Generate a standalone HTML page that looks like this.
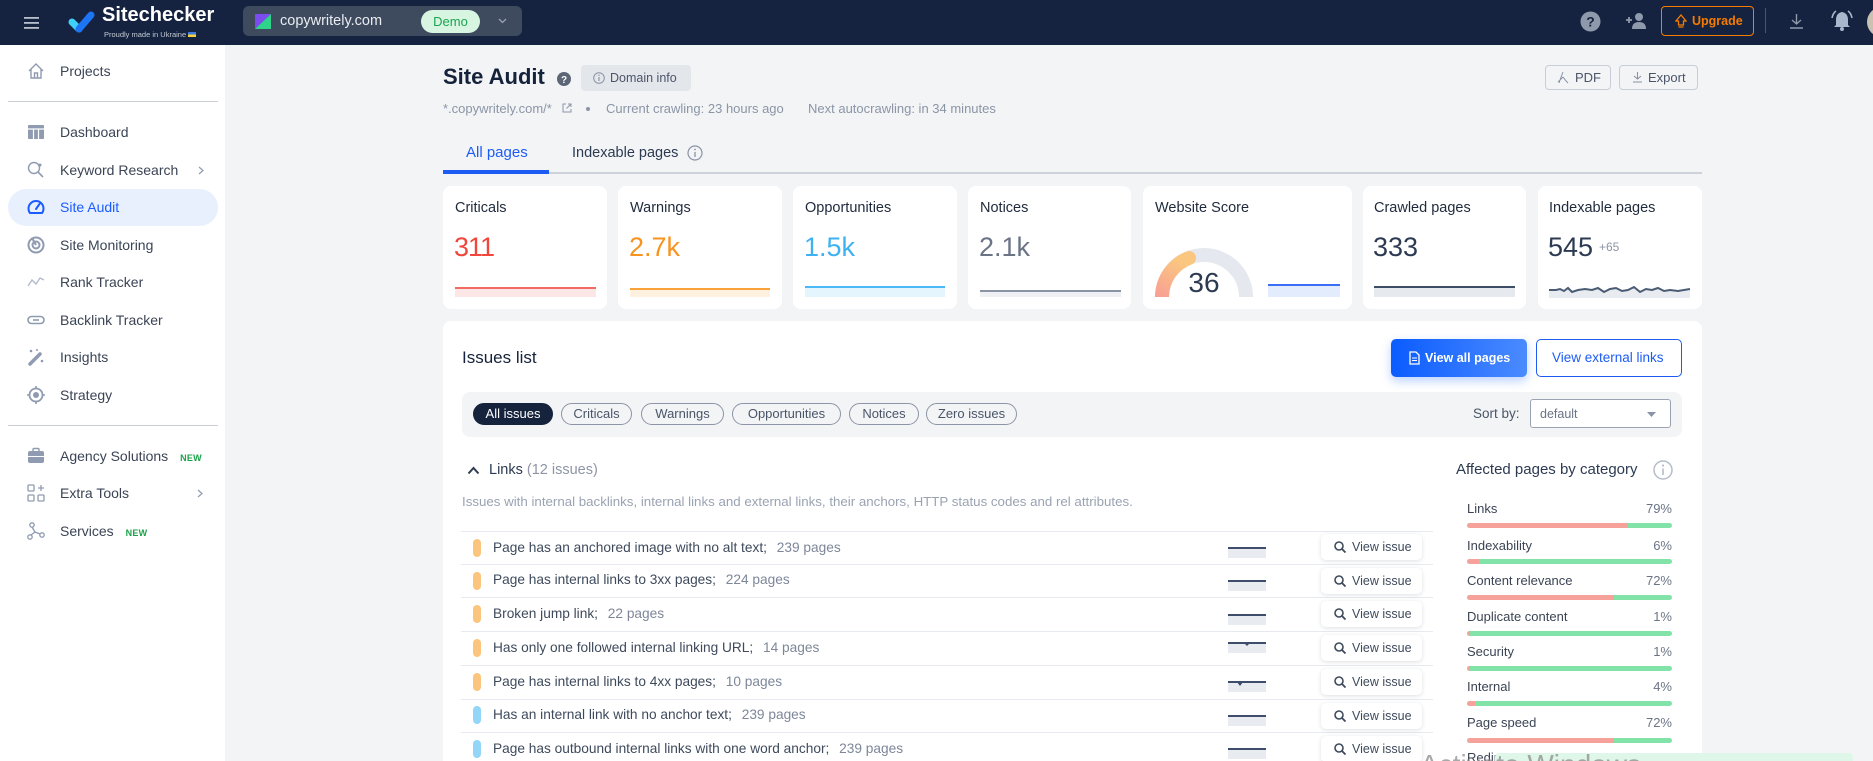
<!DOCTYPE html>
<html><head><meta charset="utf-8">
<style>
*{margin:0;padding:0;box-sizing:border-box}
html,body{width:1873px;height:761px;overflow:hidden;background:#f3f4f6;font-family:"Liberation Sans",Arial,sans-serif;color:#2c3a52}
#root{position:relative;width:1873px;height:761px;overflow:hidden;background:#f3f4f6}
.a{position:absolute;white-space:nowrap}
.side{position:absolute;left:0;top:45px;width:225px;height:716px;background:#fff}
.si{position:absolute;left:60px;font-size:14px;line-height:18px;color:#3b4455}
.ic{position:absolute;left:27px;width:18px;height:18px}
.new{font-size:9px;font-weight:bold;color:#1aa34a;letter-spacing:.3px}
.card{position:absolute;top:186px;height:123px;background:#fff;border-radius:8px}
.ct{position:absolute;left:12px;top:199px;font-size:14.5px;line-height:18px;color:#1f2a3c}
.cv{position:absolute;top:234px;font-size:27px;line-height:27px}
.pill{position:absolute;top:403px;height:22px;border:1px solid #8c95a6;border-radius:11px;font-size:13px;line-height:20px;color:#4a5568;text-align:center}
.row{position:absolute;left:461px;width:972px;height:1px;background:#e6e9ee}
.ind{position:absolute;left:473px;width:8px;height:18px;border-radius:4px}
.rt{position:absolute;left:493px;font-size:13.7px;line-height:16px;color:#3e4a5c}
.rt span{color:#7d8799;margin-left:6px}
.vb{position:absolute;left:1321px;width:101px;height:26px;background:#fff;border-radius:5px;box-shadow:0 1px 4px rgba(20,30,60,.14);font-size:12.5px;line-height:26px;color:#3e4a5c}
.vb svg{position:absolute;left:13px;top:7px}
.vb b{position:absolute;left:31px;font-weight:normal}
.sp{position:absolute;left:1228px;width:38px;height:11px;background:#e8ebef;border-top:2px solid #3d4d6b}
.bl{position:absolute;left:1467px;font-size:13px;line-height:16px;color:#3b4455}
.bp{position:absolute;left:1600px;width:72px;text-align:right;font-size:13px;line-height:16px;color:#6b7486}
.bar{position:absolute;left:1467px;width:205px;height:5px;border-radius:3px;background:#82e3a8;overflow:hidden}
.bar i{position:absolute;left:0;top:0;height:5px;background:#f6a29a;border-radius:3px 0 0 3px}
</style></head><body><div id="root">

<!-- top bar -->
<div class="a" style="left:0;top:0;width:1873px;height:45px;background:#152340"></div>
<svg class="a" style="left:24px;top:17px" width="16" height="12"><rect y="0" width="15" height="1.8" fill="#b8c0cc"/><rect y="5" width="15" height="1.8" fill="#b8c0cc"/><rect y="10" width="15" height="1.8" fill="#b8c0cc"/></svg>
<svg class="a" style="left:68px;top:10px" width="28" height="23"><path d="M4 12 L11 19" stroke="#3fd0f7" stroke-width="7" stroke-linecap="round"/><path d="M11 19 L23 5" stroke="#1d74f5" stroke-width="7" stroke-linecap="round"/></svg>
<div class="a" style="left:102px;top:5px;font-size:20px;line-height:20px;font-weight:bold;color:#fff">Sitechecker</div>
<div class="a" style="left:104px;top:31px;font-size:7.5px;line-height:8px;color:#c4cad4">Proudly made in Ukraine <span style="display:inline-block;width:8px;height:5px;background:linear-gradient(#3d7be0 50%,#f5d13b 50%)"></span></div>
<div class="a" style="left:243px;top:6px;width:279px;height:30px;background:#3e4a5e;border-radius:6px"></div>
<svg class="a" style="left:255px;top:14px" width="16" height="15"><polygon points="0,0 16,0 0,15" fill="#7b4df0"/><polygon points="16,0 16,15 0,15" fill="#2fd48b"/></svg>
<div class="a" style="left:280px;top:12px;font-size:14.5px;line-height:18px;color:#e9ecf1">copywritely.com</div>
<div class="a" style="left:421px;top:10px;width:59px;height:23px;background:#d8f5e1;border-radius:12px;font-size:13px;line-height:23px;color:#1ca34f;text-align:center">Demo</div>
<svg class="a" style="left:498px;top:18px" width="9" height="6"><polyline points="1,1 4.5,4.5 8,1" fill="none" stroke="#9aa3b2" stroke-width="1.3"/></svg>
<svg class="a" style="left:1580px;top:11px" width="21" height="21"><circle cx="10.5" cy="10.5" r="10" fill="#8e99ab"/><text x="10.5" y="15.5" font-size="14" font-weight="bold" fill="#152340" text-anchor="middle" font-family="Liberation Sans">?</text></svg>
<svg class="a" style="left:1625px;top:12px" width="22" height="18"><circle cx="14" cy="5" r="4" fill="#8e99ab"/><path d="M7 17 Q7 10 14 10 Q21 10 21 17 Z" fill="#8e99ab"/><path d="M1 8 H7 M4 5 V11" stroke="#8e99ab" stroke-width="1.8"/></svg>
<div class="a" style="left:1661px;top:6px;width:93px;height:30px;border:1.3px solid #f57c00;border-radius:4px"></div>
<svg class="a" style="left:1675px;top:14px" width="12" height="15"><path d="M6 1 L11 7 H8.5 V11 H3.5 V7 H1 Z M3.5 13 H8.5" fill="none" stroke="#f57c00" stroke-width="1.3"/></svg>
<div class="a" style="left:1692px;top:13px;font-size:12.5px;line-height:16px;font-weight:bold;color:#f57c00">Upgrade</div>
<div class="a" style="left:1765px;top:8px;width:1px;height:25px;background:#4a5669"></div>
<svg class="a" style="left:1789px;top:13px" width="15" height="16"><path d="M7.5 1 V11 M3 7 L7.5 11 L12 7 M1 15 H14" fill="none" stroke="#8e99ab" stroke-width="1.4"/></svg>
<svg class="a" style="left:1830px;top:10px" width="24" height="22"><path d="M12 2 Q18 3 18 10 V15 L20 17 H4 L6 15 V10 Q6 3 12 2 Z" fill="#a9b8cc"/><circle cx="12" cy="19" r="2" fill="#a9b8cc"/><path d="M2 8 Q3 3 6 1 M22 8 Q21 3 18 1" stroke="#a9b8cc" stroke-width="1.6" fill="none"/></svg>
<div class="a" style="left:1867px;top:7px;width:30px;height:30px;border-radius:15px;background:#c9c2b4"></div>

<!-- sidebar -->
<div class="side"></div>
<div class="a" style="left:8px;top:101px;width:210px;height:1px;background:#c9ced6"></div>
<div class="a" style="left:8px;top:425px;width:210px;height:1px;background:#c9ced6"></div>
<div class="a" style="left:8px;top:189px;width:210px;height:37px;background:#e8f0fe;border-radius:19px"></div>

<svg class="ic" style="top:62px" viewBox="0 0 18 18"><path d="M2 9 L9 2 L16 9 M4 7 V16 H14 V7 M7.5 16 V11 H10.5 V16" fill="none" stroke="#8f9bb0" stroke-width="1.4"/></svg>
<div class="si" style="top:62px">Projects</div>
<svg class="ic" style="top:123px" viewBox="0 0 18 18"><rect x="1" y="2" width="16" height="14" rx="1" fill="#8f9bb0"/><path d="M1 6 H17 M6.5 6 V16 M11.5 6 V16" stroke="#fff" stroke-width="1.2"/></svg>
<div class="si" style="top:123px">Dashboard</div>
<svg class="ic" style="top:161px" viewBox="0 0 18 18"><circle cx="7" cy="7" r="5.5" fill="none" stroke="#8f9bb0" stroke-width="1.4"/><path d="M11 11 L16 16" stroke="#8f9bb0" stroke-width="1.6"/><circle cx="13" cy="4" r="1.5" fill="#8f9bb0"/></svg>
<div class="si" style="top:161px">Keyword Research</div>
<svg class="a" style="left:198px;top:166px" width="6" height="9"><polyline points="1,1 5,4.5 1,8" fill="none" stroke="#8f9bb0" stroke-width="1.2"/></svg>
<svg class="ic" style="top:198px" viewBox="0 0 18 18"><path d="M3 15 A7.5 7.5 0 1 1 15 15 Z" fill="none" stroke="#1b5cff" stroke-width="2"/><path d="M9 11 L12.5 6" stroke="#1b5cff" stroke-width="2" stroke-linecap="round"/></svg>
<div class="si" style="top:198px;color:#1b5cff">Site Audit</div>
<svg class="ic" style="top:236px" viewBox="0 0 18 18"><circle cx="9" cy="9" r="7.5" fill="none" stroke="#8f9bb0" stroke-width="2"/><circle cx="9" cy="9" r="3.5" fill="none" stroke="#8f9bb0" stroke-width="2"/><path d="M9 9 L5 2" stroke="#8f9bb0" stroke-width="2"/></svg>
<div class="si" style="top:236px">Site Monitoring</div>
<svg class="ic" style="top:273px" viewBox="0 0 18 18"><polyline points="1,13 5,7 9,11 13,5 17,7" fill="none" stroke="#b3bccb" stroke-width="1.4"/></svg>
<div class="si" style="top:273px">Rank Tracker</div>
<svg class="ic" style="top:311px" viewBox="0 0 18 18"><rect x="1" y="5.5" width="16" height="7" rx="3.5" fill="none" stroke="#8f9bb0" stroke-width="1.6"/><path d="M6 9 H12" stroke="#8f9bb0" stroke-width="1.6"/></svg>
<div class="si" style="top:311px">Backlink Tracker</div>
<svg class="ic" style="top:348px" viewBox="0 0 18 18"><path d="M3 16 L13 6" stroke="#8f9bb0" stroke-width="3.5" stroke-linecap="round"/><circle cx="4" cy="3" r="1.3" fill="#8f9bb0"/><circle cx="15" cy="13" r="1.3" fill="#8f9bb0"/><circle cx="10" cy="2" r="1" fill="#8f9bb0"/></svg>
<div class="si" style="top:348px">Insights</div>
<svg class="ic" style="top:386px" viewBox="0 0 18 18"><circle cx="9" cy="9" r="6.5" fill="none" stroke="#8f9bb0" stroke-width="1.8"/><circle cx="9" cy="9" r="3" fill="#8f9bb0"/><path d="M9 0 V3 M9 15 V18 M0 9 H3 M15 9 H18" stroke="#8f9bb0" stroke-width="1.6"/></svg>
<div class="si" style="top:386px">Strategy</div>
<svg class="ic" style="top:447px" viewBox="0 0 18 18"><rect x="1" y="4" width="16" height="12" rx="2" fill="#8f9bb0"/><rect x="6" y="1.5" width="6" height="4" rx="1" fill="none" stroke="#8f9bb0" stroke-width="1.4"/><path d="M1 9.5 H17" stroke="#fff" stroke-width="1"/></svg>
<div class="si" style="top:447px">Agency Solutions <span class="new" style="margin-left:8px">NEW</span></div>
<svg class="ic" style="top:484px" viewBox="0 0 18 18"><rect x="1" y="1" width="6" height="6" rx="1" fill="none" stroke="#8f9bb0" stroke-width="1.3"/><rect x="1" y="11" width="6" height="6" rx="1" fill="none" stroke="#8f9bb0" stroke-width="1.3"/><rect x="11" y="11" width="6" height="6" rx="1" fill="none" stroke="#8f9bb0" stroke-width="1.3"/><path d="M14 1 V7 M11 4 H17" stroke="#8f9bb0" stroke-width="1.3"/></svg>
<div class="si" style="top:484px">Extra Tools</div>
<svg class="a" style="left:197px;top:489px" width="6" height="9"><polyline points="1,1 5,4.5 1,8" fill="none" stroke="#8f9bb0" stroke-width="1.2"/></svg>
<svg class="ic" style="top:522px" viewBox="0 0 18 18"><circle cx="5" cy="3" r="2.2" fill="none" stroke="#8f9bb0" stroke-width="1.3"/><circle cx="3" cy="15" r="2.2" fill="none" stroke="#8f9bb0" stroke-width="1.3"/><circle cx="15" cy="13" r="2.2" fill="none" stroke="#8f9bb0" stroke-width="1.3"/><path d="M5 5 L8 10 L4 13 M8 10 L13 12" stroke="#8f9bb0" stroke-width="1.3" fill="none"/></svg>
<div class="si" style="top:522px">Services <span class="new" style="margin-left:8px">NEW</span></div>

<!-- header -->
<div class="a" style="left:443px;top:64px;font-size:22px;line-height:26px;font-weight:bold;color:#15223b">Site Audit</div>
<svg class="a" style="left:557px;top:72px" width="14" height="14"><circle cx="7" cy="7" r="7" fill="#5d6676"/><text x="7" y="11" font-size="10" font-weight="bold" fill="#fff" text-anchor="middle" font-family="Liberation Sans">?</text></svg>
<div class="a" style="left:581px;top:65px;width:110px;height:26px;background:#e3e6eb;border-radius:4px"></div>
<svg class="a" style="left:593px;top:72px" width="12" height="12"><circle cx="6" cy="6" r="5.3" fill="none" stroke="#8a94a6" stroke-width="1"/><path d="M6 5 V9" stroke="#8a94a6" stroke-width="1.1"/><circle cx="6" cy="3.3" r=".7" fill="#8a94a6"/></svg>
<div class="a" style="left:610px;top:70px;font-size:12.5px;line-height:16px;color:#4b5568">Domain info</div>
<div class="a" style="left:1545px;top:65px;width:66px;height:25px;border:1px solid #c8ced8;border-radius:4px"></div>
<svg class="a" style="left:1557px;top:71px" width="12" height="13"><path d="M6 1 Q4 6 2 12 M6 6 Q8 9 11 12 M6 6 Q3 9 1 11" fill="none" stroke="#8a94a6" stroke-width="1"/></svg>
<div class="a" style="left:1575px;top:70px;font-size:13px;line-height:16px;color:#4b5568">PDF</div>
<div class="a" style="left:1619px;top:65px;width:79px;height:25px;border:1px solid #c8ced8;border-radius:4px"></div>
<svg class="a" style="left:1632px;top:71px" width="11" height="12"><path d="M5.5 1 V8 M2 5 L5.5 8 L9 5 M1 11 H10" fill="none" stroke="#8a94a6" stroke-width="1.1"/></svg>
<div class="a" style="left:1648px;top:70px;font-size:13px;line-height:16px;color:#4b5568">Export</div>

<div class="a" style="left:443px;top:101px;font-size:13px;line-height:16px;color:#8b95a6">*.copywritely.com/*</div>
<svg class="a" style="left:562px;top:103px" width="10" height="10"><path d="M4 1 H1 V9 H9 V6 M6 1 H9 V4 M9 1 L4.5 5.5" fill="none" stroke="#8b95a6" stroke-width="1"/></svg>
<div class="a" style="left:586px;top:107px;width:4px;height:4px;border-radius:2px;background:#8b95a6"></div>
<div class="a" style="left:606px;top:101px;font-size:13px;line-height:16px;color:#8b95a6">Current crawling: 23 hours ago</div>
<div class="a" style="left:808px;top:101px;font-size:13px;line-height:16px;color:#8b95a6">Next autocrawling: in 34 minutes</div>

<div class="a" style="left:443px;top:172px;width:1259px;height:1.5px;background:#cdd2da"></div>
<div class="a" style="left:443px;top:170px;width:106px;height:3.5px;background:#1c5cf5"></div>
<div class="a" style="left:466px;top:144px;font-size:15px;line-height:18px;color:#1c5cf5">All pages</div>
<div class="a" style="left:572px;top:144px;font-size:14.5px;line-height:18px;color:#2c3a52">Indexable pages</div>
<svg class="a" style="left:687px;top:145px" width="16" height="16"><circle cx="8" cy="8" r="7" fill="none" stroke="#8a94a6" stroke-width="1.2"/><path d="M8 7 V12" stroke="#8a94a6" stroke-width="1.3"/><circle cx="8" cy="4.5" r=".9" fill="#8a94a6"/></svg>

<!-- cards -->
<div class="card" style="left:443px;width:164px"></div>
<div class="card" style="left:618px;width:164px"></div>
<div class="card" style="left:793px;width:164px"></div>
<div class="card" style="left:968px;width:163px"></div>
<div class="card" style="left:1143px;width:209px"></div>
<div class="card" style="left:1363px;width:163px"></div>
<div class="card" style="left:1538px;width:164px"></div>

<div class="ct" style="left:455px">Criticals</div>
<div class="ct" style="left:630px">Warnings</div>
<div class="ct" style="left:805px">Opportunities</div>
<div class="ct" style="left:980px">Notices</div>
<div class="ct" style="left:1155px">Website Score</div>
<div class="ct" style="left:1374px">Crawled pages</div>
<div class="ct" style="left:1549px">Indexable pages</div>

<div class="cv" style="left:454px;color:#f0463c;letter-spacing:-1px">311</div>
<div class="cv" style="left:629px;color:#f7931e">2.7k</div>
<div class="cv" style="left:804px;color:#3db1f2">1.5k</div>
<div class="cv" style="left:979px;color:#6b7486">2.1k</div>
<div class="cv" style="left:1373px;color:#2c3a52">333</div>
<div class="cv" style="left:1548px;color:#2c3a52">545</div>
<div class="a" style="left:1599px;top:241px;font-size:12px;line-height:12px;color:#8b95a6">+65</div>

<!-- card sparklines -->
<div class="a" style="left:455px;top:287px;width:141px;height:10px;background:#fde6e6;border-top:2.5px solid #f26b63"></div>
<div class="a" style="left:630px;top:288px;width:140px;height:9px;background:#fff1df;border-top:2.5px solid #f9a23b"></div>
<div class="a" style="left:805px;top:286px;width:140px;height:11px;background:#e5f5fe;border-top:2px solid #4cb8f5"></div>
<div class="a" style="left:980px;top:290px;width:141px;height:7px;background:#eef0f3;border-top:2.5px solid #8a94a5"></div>
<div class="a" style="left:1374px;top:286px;width:141px;height:11px;background:#e6e9ee;border-top:2.5px solid #3d4d66"></div>
<div class="a" style="left:1268px;top:284px;width:72px;height:13px;background:#e3ecfd;border-top:2px solid #3b6ef6"></div>
<svg class="a" style="left:1549px;top:283px" width="141" height="15"><polygon points="0,7 7,7 11,6 15,8 19,5 23,9 29,7 36,6 43,7 49,5 55,9 61,6 67,5 73,8 79,7 85,4 91,9 97,6 103,7 109,5 115,8 121,7 129,8 141,6 141,15 0,15" fill="#e8ebf0"/><polyline points="0,7 7,7 11,6 15,8 19,5 23,9 29,7 36,6 43,7 49,5 55,9 61,6 67,5 73,8 79,7 85,4 91,9 97,6 103,7 109,5 115,8 121,7 129,8 141,6" fill="none" stroke="#4a5b74" stroke-width="2"/></svg>

<!-- gauge -->
<svg class="a" style="left:1150px;top:240px" width="110" height="58">
<defs><linearGradient id="g" x1="0" y1="1" x2="0.4" y2="0"><stop offset="0" stop-color="#f7a193"/><stop offset="1" stop-color="#fbc680"/></linearGradient></defs>
<path d="M12 57 A42 42 0 0 1 96 57" fill="none" stroke="#e5e8ee" stroke-width="14"/>
<path d="M12 57 A42 42 0 0 1 39 18" fill="none" stroke="url(#g)" stroke-width="14" stroke-linecap="round"/>
<rect x="0" y="57" width="110" height="2" fill="#fff"/>
</svg>
<div class="a" style="left:1174px;top:269px;width:60px;text-align:center;font-size:28px;line-height:28px;color:#2c3a52">36</div>

<!-- issues card -->
<div class="a" style="left:443px;top:321px;width:1259px;height:450px;background:#fff;border-radius:8px"></div>
<div class="a" style="left:462px;top:348px;font-size:17px;line-height:20px;color:#15223b">Issues list</div>
<div class="a" style="left:1391px;top:339px;width:136px;height:38px;border-radius:5px;background:linear-gradient(90deg,#0b5cff,#4b8bff);box-shadow:0 4px 10px rgba(11,92,255,.28)"></div>
<svg class="a" style="left:1409px;top:351px" width="11" height="14"><path d="M1 1 H7 L10 4 V13 H1 Z" fill="none" stroke="#fff" stroke-width="1.3"/><path d="M3 7 H8 M3 9.5 H8" stroke="#fff" stroke-width="1"/></svg>
<div class="a" style="left:1425px;top:350px;font-size:12.5px;line-height:16px;font-weight:bold;color:#fff">View all pages</div>
<div class="a" style="left:1536px;top:339px;width:146px;height:38px;border:1.3px solid #1c5cf5;border-radius:5px"></div>
<div class="a" style="left:1552px;top:350px;font-size:13.5px;line-height:16px;color:#1c5cf5">View external links</div>

<div class="a" style="left:462px;top:392px;width:1220px;height:45px;background:#f3f4f6;border-radius:8px"></div>
<div class="pill" style="left:473px;width:80px;background:#15233d;border-color:#15233d;color:#fff">All issues</div>
<div class="pill" style="left:561px;width:71px">Criticals</div>
<div class="pill" style="left:641px;width:83px">Warnings</div>
<div class="pill" style="left:732px;width:109px">Opportunities</div>
<div class="pill" style="left:849px;width:70px">Notices</div>
<div class="pill" style="left:926px;width:91px">Zero issues</div>
<div class="a" style="left:1473px;top:406px;font-size:13.5px;line-height:16px;color:#4a5568">Sort by:</div>
<div class="a" style="left:1530px;top:399px;width:141px;height:29px;background:#fff;border:1px solid #9aa3b2;border-radius:3px"></div>
<div class="a" style="left:1540px;top:406px;font-size:12.5px;line-height:16px;color:#6b7486">default</div>
<svg class="a" style="left:1647px;top:412px" width="9" height="5"><polygon points="0,0 9,0 4.5,5" fill="#8a94a6"/></svg>

<svg class="a" style="left:467px;top:466px" width="13" height="9"><polyline points="1.5,7.5 6.5,2 11.5,7.5" fill="none" stroke="#2c3a52" stroke-width="2"/></svg>
<div class="a" style="left:489px;top:461px;font-size:14.5px;line-height:18px;color:#2c3a52">Links <span style="color:#8d95a5">(12 issues)</span></div>
<div class="a" style="left:462px;top:494px;font-size:13.3px;line-height:16px;color:#9aa3b2">Issues with internal backlinks, internal links and external links, their anchors, HTTP status codes and rel attributes.</div>

<!-- rows -->
<div class="row" style="top:531px"></div>
<div class="row" style="top:564px"></div>
<div class="row" style="top:597px"></div>
<div class="row" style="top:631px"></div>
<div class="row" style="top:665px"></div>
<div class="row" style="top:699px"></div>
<div class="row" style="top:732px"></div>

<div class="ind" style="top:539px;background:#fcc57e"></div>
<div class="ind" style="top:572px;background:#fcc57e"></div>
<div class="ind" style="top:605px;background:#fcc57e"></div>
<div class="ind" style="top:639px;background:#fcc57e"></div>
<div class="ind" style="top:673px;background:#fcc57e"></div>
<div class="ind" style="top:706px;background:#93d6f8"></div>
<div class="ind" style="top:740px;background:#93d6f8"></div>

<div class="rt" style="top:540px">Page has an anchored image with no alt text; <span>239 pages</span></div>
<div class="rt" style="top:572px">Page has internal links to 3xx pages; <span>224 pages</span></div>
<div class="rt" style="top:606px">Broken jump link; <span>22 pages</span></div>
<div class="rt" style="top:640px">Has only one followed internal linking URL; <span>14 pages</span></div>
<div class="rt" style="top:674px">Page has internal links to 4xx pages; <span>10 pages</span></div>
<div class="rt" style="top:707px">Has an internal link with no anchor text; <span>239 pages</span></div>
<div class="rt" style="top:741px">Page has outbound internal links with one word anchor; <span>239 pages</span></div>

<div class="sp" style="top:547px"></div>
<div class="sp" style="top:580px"></div>
<div class="sp" style="top:614px"></div>
<div class="sp" style="top:642px"></div>
<div class="sp" style="top:681px"></div>
<div class="sp" style="top:715px"></div>
<div class="sp" style="top:748px"></div>
<svg class="a" style="left:1244px;top:643px" width="6" height="4"><polygon points="0,0 6,0 3,3" fill="#3d4d6b"/></svg>
<svg class="a" style="left:1237px;top:682px" width="6" height="5"><polygon points="0,0 6,0 3,4" fill="#3d4d6b"/></svg>

<div class="vb" style="top:534px"><svg width="12" height="12"><circle cx="5" cy="5" r="4" fill="none" stroke="#3e4a5c" stroke-width="1.6"/><path d="M8 8 L11.5 11.5" stroke="#3e4a5c" stroke-width="1.8"/></svg><b>View issue</b></div>
<div class="vb" style="top:568px"><svg width="12" height="12"><circle cx="5" cy="5" r="4" fill="none" stroke="#3e4a5c" stroke-width="1.6"/><path d="M8 8 L11.5 11.5" stroke="#3e4a5c" stroke-width="1.8"/></svg><b>View issue</b></div>
<div class="vb" style="top:601px"><svg width="12" height="12"><circle cx="5" cy="5" r="4" fill="none" stroke="#3e4a5c" stroke-width="1.6"/><path d="M8 8 L11.5 11.5" stroke="#3e4a5c" stroke-width="1.8"/></svg><b>View issue</b></div>
<div class="vb" style="top:635px"><svg width="12" height="12"><circle cx="5" cy="5" r="4" fill="none" stroke="#3e4a5c" stroke-width="1.6"/><path d="M8 8 L11.5 11.5" stroke="#3e4a5c" stroke-width="1.8"/></svg><b>View issue</b></div>
<div class="vb" style="top:669px"><svg width="12" height="12"><circle cx="5" cy="5" r="4" fill="none" stroke="#3e4a5c" stroke-width="1.6"/><path d="M8 8 L11.5 11.5" stroke="#3e4a5c" stroke-width="1.8"/></svg><b>View issue</b></div>
<div class="vb" style="top:703px"><svg width="12" height="12"><circle cx="5" cy="5" r="4" fill="none" stroke="#3e4a5c" stroke-width="1.6"/><path d="M8 8 L11.5 11.5" stroke="#3e4a5c" stroke-width="1.8"/></svg><b>View issue</b></div>
<div class="vb" style="top:736px"><svg width="12" height="12"><circle cx="5" cy="5" r="4" fill="none" stroke="#3e4a5c" stroke-width="1.6"/><path d="M8 8 L11.5 11.5" stroke="#3e4a5c" stroke-width="1.8"/></svg><b>View issue</b></div>

<!-- affected pages -->
<div class="a" style="left:1456px;top:461px;font-size:15px;line-height:18px;color:#2c3a52">Affected pages by category</div>
<svg class="a" style="left:1653px;top:460px" width="20" height="20"><circle cx="10" cy="10" r="9" fill="none" stroke="#b5bdca" stroke-width="1.5"/><path d="M10 8.5 V15" stroke="#b5bdca" stroke-width="1.6"/><circle cx="10" cy="5.5" r="1.1" fill="#b5bdca"/></svg>

<div class="bl" style="top:501px">Links</div><div class="bp" style="top:501px">79%</div><div class="bar" style="top:523px"><i style="width:161px"></i></div>
<div class="bl" style="top:538px">Indexability</div><div class="bp" style="top:538px">6%</div><div class="bar" style="top:559px"><i style="width:12px"></i></div>
<div class="bl" style="top:573px">Content relevance</div><div class="bp" style="top:573px">72%</div><div class="bar" style="top:595px"><i style="width:147px"></i></div>
<div class="bl" style="top:609px">Duplicate content</div><div class="bp" style="top:609px">1%</div><div class="bar" style="top:631px"><i style="width:3px"></i></div>
<div class="bl" style="top:644px">Security</div><div class="bp" style="top:644px">1%</div><div class="bar" style="top:666px"><i style="width:3px"></i></div>
<div class="bl" style="top:679px">Internal</div><div class="bp" style="top:679px">4%</div><div class="bar" style="top:701px"><i style="width:8px"></i></div>
<div class="bl" style="top:715px">Page speed</div><div class="bp" style="top:715px">72%</div><div class="bar" style="top:738px"><i style="width:147px"></i></div>
<div class="bl" style="top:750px">Redirects</div>

<!-- overlay -->
<div class="a" style="left:1495px;top:753px;width:358px;height:8px;background:#dff7e8;border-radius:4px 4px 0 0"></div>
<div class="a" style="left:1420px;top:749px;font-size:28px;line-height:32px;color:rgba(140,140,140,.75)">Activate Windows</div>

</div></body></html>
